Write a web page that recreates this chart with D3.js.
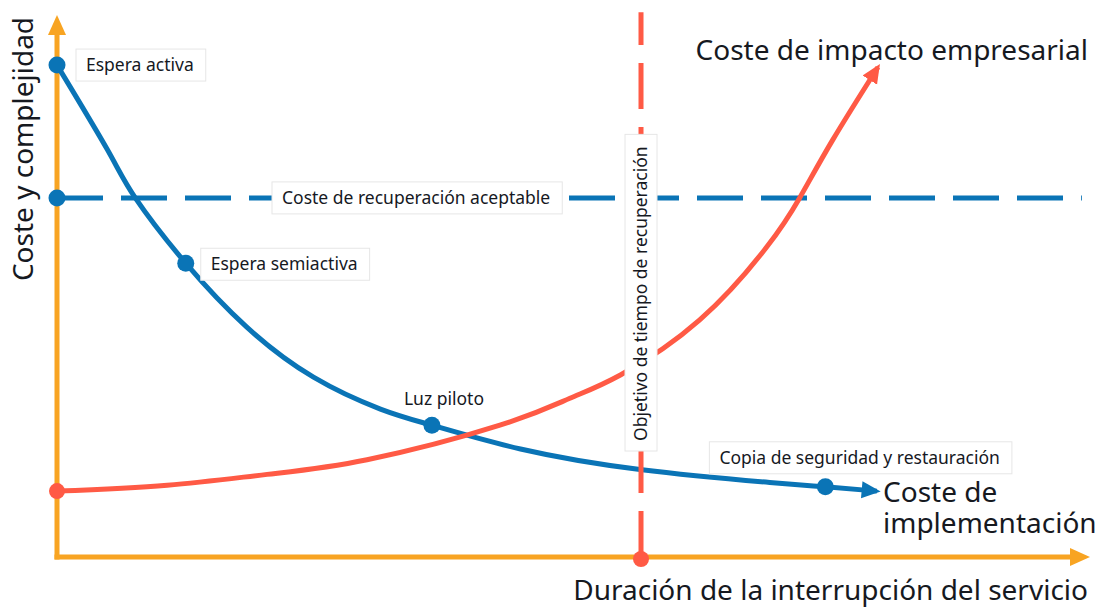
<!DOCTYPE html>
<html>
<head>
<meta charset="utf-8">
<script src="https://cdn.jsdelivr.net/npm/d3@7"></script>
<style>
  body { margin: 0; background: #fff; }
  svg { display: block; font-family: "Noto Sans", "Open Sans", sans-serif; }
</style>
</head>
<body>
<svg width="1101" height="607"></svg>
<script>
// coste de implementación (azul), unidades abstractas 0-10
var deployX = [0, 0.49, 0.76, 1.25, 1.84, 2.49, 3.14, 3.64, 4.50, 5.66, 6.92, 7.46, 7.96];
var deployY = [9.11, 7.54, 6.65, 5.44, 4.26, 3.33, 2.74, 2.44, 2.00, 1.62, 1.38, 1.30, 1.22];

// coste de impacto empresarial (rojo)
var impactX = [0, 1.07, 2.04, 3.01, 4.30, 4.98, 5.47, 6.24, 6.89, 7.21, 7.53, 7.97];
var impactY = [1.22, 1.33, 1.53, 1.80, 2.44, 2.94, 3.37, 4.39, 5.74, 6.65, 7.72, 9.07];

// estrategias marcadas sobre la curva azul
var strategies = ["Espera activa", "Espera semiactiva", "Luz piloto", "Copia de seguridad y restauración"];
var strategyX = [0, 1.25, 3.64, 7.46];
var strategyY = [9.11, 5.44, 2.44, 1.30];

var acceptableCost = 6.65;   // línea discontinua azul
var rtoValue = 5.67;         // línea discontinua roja

var blue = "#0a74b6", red = "#ff5a45", orange = "#f8a422", ink = "#16191f";

var svg = d3.select("svg");
var x = d3.scaleLinear().domain([0, 10]).range([57, 1087]);
var y = d3.scaleLinear().domain([0, 10]).range([557, 17]);

var defs = svg.append("defs");
function marker(id, color, size) {
    defs.append("marker")
        .attr("id", id)
        .attr("viewBox", "0 0 10 10")
        .attr("refX", 8).attr("refY", 5)
        .attr("markerUnits", "userSpaceOnUse")
        .attr("markerWidth", size).attr("markerHeight", size)
        .attr("orient", "auto")
        .append("path")
        .attr("d", "M0,0.5 L10,5 L0,9.5 z")
        .attr("fill", color);
}
marker("arrBlue", blue, 19);
marker("arrRed", red, 19);

// ejes (sin marcas)
var xAxis = svg.append("g")
    .attr("transform", "translate(0," + y(0) + ")")
    .call(d3.axisBottom(x).tickValues([]).tickSizeOuter(0));
var yAxis = svg.append("g")
    .attr("transform", "translate(" + x(0) + ",0)")
    .call(d3.axisLeft(y).tickValues([]).tickSizeOuter(0));
svg.selectAll(".domain")
    .attr("stroke", orange)
    .attr("stroke-width", 5);
xAxis.select(".domain").attr("d", "M" + (x(0) - 2.5) + ",0H" + (x(10) - 12));
yAxis.select(".domain").attr("d", "M0," + (y(0) + 2.5) + "V" + (y(10) + 14));

// puntas de flecha de los ejes
svg.append("path")
    .attr("d", "M" + (x(10) + 3) + "," + y(0) + " l-20,-9 v18 z")
    .attr("fill", orange);
svg.append("path")
    .attr("d", "M" + x(0) + "," + (y(10) - 2) + " l-9,20 h18 z")
    .attr("fill", orange);

// línea de coste aceptable
svg.append("line")
    .attr("x1", x(0)).attr("x2", x(9.95))
    .attr("y1", y(acceptableCost)).attr("y2", y(acceptableCost))
    .attr("stroke", blue).attr("stroke-width", 5)
    .attr("stroke-dasharray", "46,18");

var line = d3.line()
    .x(function (d) { return x(d[0]); })
    .y(function (d) { return y(d[1]); })
    .curve(d3.curveNatural);

svg.append("path")
    .datum(d3.zip(deployX, deployY))
    .attr("d", line)
    .attr("fill", "none")
    .attr("stroke", blue).attr("stroke-width", 5)
    .attr("marker-end", "url(#arrBlue)");

svg.append("path")
    .datum(d3.zip(impactX, impactY))
    .attr("d", line)
    .attr("fill", "none")
    .attr("stroke", red).attr("stroke-width", 5)
    .attr("marker-end", "url(#arrRed)");

// línea RTO
svg.append("line")
    .attr("x1", x(rtoValue)).attr("x2", x(rtoValue))
    .attr("y1", y(0)).attr("y2", y(10.09))
    .attr("stroke", red).attr("stroke-width", 5)
    .attr("stroke-dasharray", "46,18");

// etiquetas con caja blanca
function boxLabel(text, tx, ty, rotate, showBox) {
    var g = svg.append("g")
        .attr("transform", "translate(" + tx + "," + ty + ")" + (rotate ? " rotate(-90)" : ""));
    var rect = g.append("rect");
    var t = g.append("text")
        .attr("x", 0).attr("y", 0)
        .attr("dy", "0.35em")
        .attr("font-size", 17.5)
        .attr("fill", ink)
        .text(text);
    var w = t.node().getComputedTextLength();
    if (showBox) {
        rect.attr("x", -10).attr("y", -16)
            .attr("width", w + 22).attr("height", 32)
            .attr("fill", "#fff")
            .attr("stroke", "#e6e6e6")
            .attr("stroke-width", 1);
    }
}

boxLabel("Coste de recuperación aceptable", 282, y(acceptableCost), false, true);
boxLabel("Objetivo de tiempo de recuperación", x(rtoValue), 441, true, true);

var labelOffsets = [[29, 0], [25, 1], [-28, -26], [-106, -29]];
strategies.forEach(function (s, i) {
    boxLabel(s, x(strategyX[i]) + labelOffsets[i][0], y(strategyY[i]) + labelOffsets[i][1], false, i !== 2);
});

// puntos
svg.append("g").selectAll("circle")
    .data(d3.range(strategies.length))
    .join("circle")
    .attr("cx", function (i) { return x(strategyX[i]); })
    .attr("cy", function (i) { return y(strategyY[i]); })
    .attr("r", 8.5)
    .attr("fill", blue);

svg.append("circle")
    .attr("cx", x(0)).attr("cy", y(acceptableCost))
    .attr("r", 8.5).attr("fill", blue);
svg.append("circle")
    .attr("cx", x(0)).attr("cy", y(impactY[0]))
    .attr("r", 8).attr("fill", red);
svg.append("circle")
    .attr("cx", x(rtoValue)).attr("cy", y(0) + 2)
    .attr("r", 8).attr("fill", red);

// títulos
var big = 28;
svg.append("text")
    .attr("x", 1088).attr("y", 600)
    .attr("text-anchor", "end")
    .attr("font-size", big).attr("fill", ink)
    .text("Duración de la interrupción del servicio");

svg.append("text")
    .attr("transform", "translate(33,149) rotate(-90)")
    .attr("text-anchor", "middle")
    .attr("font-size", big).attr("fill", ink)
    .text("Coste y complejidad");

svg.append("text")
    .attr("x", 1088).attr("y", 60)
    .attr("text-anchor", "end")
    .attr("font-size", big).attr("fill", ink)
    .text("Coste de impacto empresarial");

var impl = svg.append("text")
    .attr("x", 883).attr("y", 502)
    .attr("font-size", big).attr("fill", ink);
impl.append("tspan").attr("x", 883).text("Coste de");
impl.append("tspan").attr("x", 883).attr("dy", 31).text("implementación");
</script>
</body>
</html>
